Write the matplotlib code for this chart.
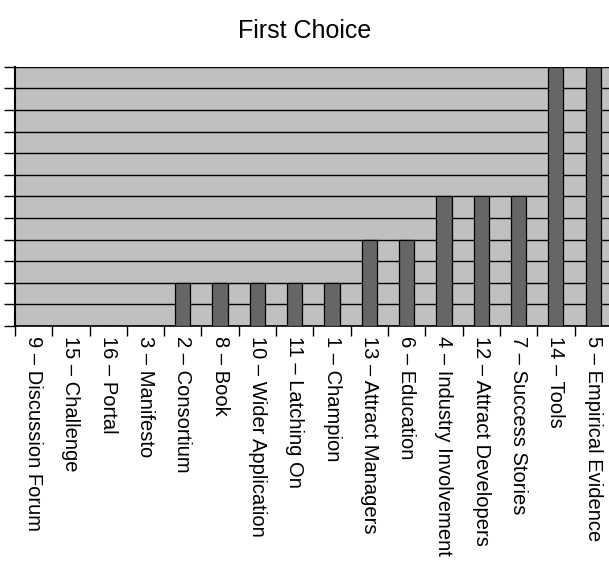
import matplotlib
matplotlib.use('Agg')
import matplotlib.pyplot as plt
import numpy as np

plt.rcParams['font.family'] = ['Liberation Sans', 'DejaVu Sans']

categories = ["9 – Discussion Forum", "15 – Challenge", "16 – Portal", "3 – Manifesto",
              "2 – Consortium", "8 – Book", "10 – Wider Application", "11 – Latching On",
              "1 – Champion", "13 – Attract Managers", "6 – Education",
              "4 – Industry Involvement", "12 – Attract Developers", "7 – Success Stories",
              "14 – Tools", "5 – Empirical Evidence"]
votes = [0, 0, 0, 0, 1, 1, 1, 1, 1, 2, 2, 3, 3, 3, 6, 6]

fig = plt.figure(figsize=(6.09, 5.67), dpi=100)
ax = fig.add_axes([0.0246, 0.425, 0.98, 0.457])
ax.set_facecolor('#C0C0C0')

x = np.arange(len(categories))
ax.bar(x, votes, width=0.41, color='#666666', edgecolor='black', linewidth=0.9, zorder=3)

ax.set_xlim(-0.5, len(categories) - 0.5)
ax.set_ylim(0, 6)
ax.set_yticks(np.arange(0, 6.01, 0.5))
ax.set_yticklabels([])
ax.yaxis.grid(True, color='black', linewidth=1.0, zorder=1)
ax.set_axisbelow(True)

ax.set_xticks(x)
ax.set_xticklabels(categories, rotation=270, ha='center', va='top', fontsize=14.5)
ax.tick_params(axis='x', length=0, pad=7)
ax.set_xticks(np.arange(-0.5, len(categories), 1), minor=True)
ax.tick_params(axis='x', which='minor', length=7, width=1, direction='out')
ax.tick_params(axis='y', length=8, width=1, direction='out')

for side in ['top', 'right']:
    ax.spines[side].set_visible(False)
ax.spines['left'].set_linewidth(1.5)
ax.spines['bottom'].set_linewidth(1.2)

fig.text(0.5, 0.945, "First Choice", ha='center', va='center', fontsize=18)

fig.savefig('out.png', dpi=100)
